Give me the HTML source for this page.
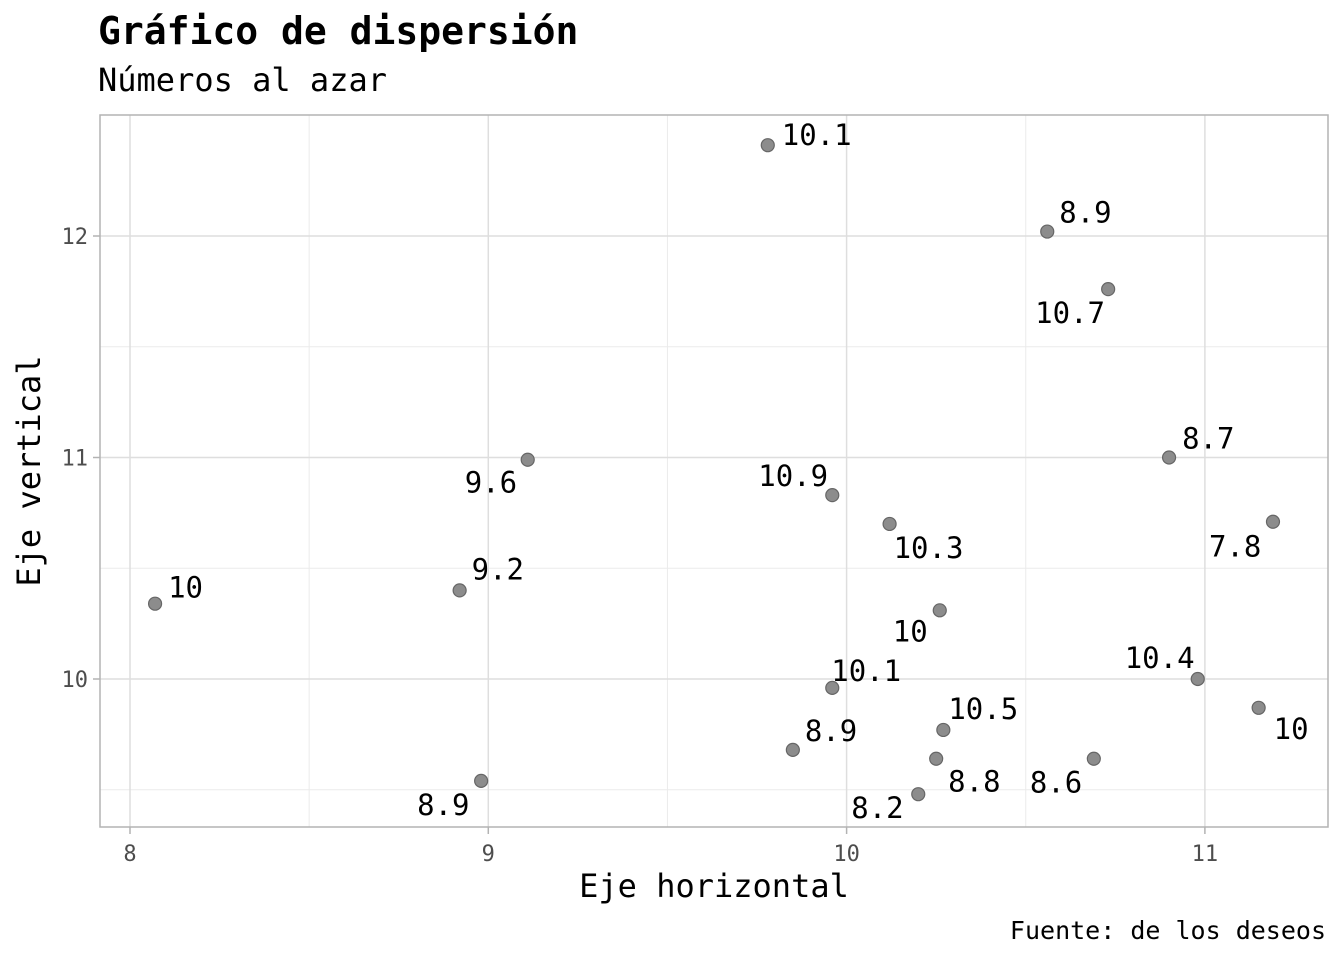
<!DOCTYPE html>
<html><head><meta charset="utf-8"><style>
html,body{margin:0;padding:0;background:#fff;}
svg{display:block;font-family:"DejaVu Sans Mono","Liberation Mono",monospace;}
</style></head><body>
<svg id="chart" width="1344" height="960">
<text x="98" y="44" font-size="38" font-weight="bold" fill="#000">Gráfico de dispersión</text>
<text x="98" y="91" font-size="32" fill="#000">Números al azar</text>
<g id="grid"></g>
<rect x="100" y="115" width="1228" height="712" fill="none" stroke="#b3b3b3" stroke-width="1.5"/>
<g id="ticks"></g>
<g id="marks"></g>
<text x="714" y="897" font-size="32" text-anchor="middle" fill="#000">Eje horizontal</text>
<text transform="translate(40,471) rotate(-90)" font-size="32" text-anchor="middle" fill="#000">Eje vertical</text>
<text x="1326" y="939" font-size="25" text-anchor="end" fill="#000">Fuente: de los deseos</text>
</svg>
<script>
const xVals=[8.07,8.92,9.11,8.98,9.78,10.56,10.73,9.96,10.12,10.90,11.19,10.26,9.96,9.85,10.27,10.25,10.20,10.69,10.98,11.15];
const yVals=[10.34,10.40,10.99,9.54,12.41,12.02,11.76,10.83,10.70,11.00,10.71,10.31,9.96,9.68,9.77,9.64,9.48,9.64,10.00,9.87];
const labels=["10","9.2","9.6","8.9","10.1","8.9","10.7","10.9","10.3","8.7","7.8","10","10.1","8.9","10.5","8.8","8.2","8.6","10.4","10"];
const xTicks=[8,9,10,11];
const yTicks=[10,11,12];
const xMinor=[8.5,9.5,10.5];
const yMinor=[9.5,10.5,11.5];
const labelDx=[13,12,-63,-64,14,12,-73,-74,4,13,-64,-47,-1,12,5,12,-67,-64,-73,15];
const labelDy=[-6,-11,33,34,0,-9,34,-9,34,-9,35,31,-7,-9,-11,33,24,34,-11,31];
const X=v=>130+(v-8)*358.3;
const Y=v=>679-(v-10)*221.5;
const NS="http://www.w3.org/2000/svg";
function mk(tag,parent,attrs){const e=document.createElementNS(NS,tag);for(const k in attrs)e.setAttribute(k,attrs[k]);parent.appendChild(e);return e;}
const grid=document.getElementById('grid'),ticks=document.getElementById('ticks'),marks=document.getElementById('marks');
xMinor.forEach(v=>{const l=mk('line',grid,{x1:X(v),x2:X(v),y1:115,y2:827,stroke:'#ebebeb','stroke-width':1});

});
yMinor.forEach(v=>{const l=mk('line',grid,{x1:100,x2:1328,y1:Y(v),y2:Y(v),stroke:'#ebebeb','stroke-width':1});

});
xTicks.forEach(v=>{const l=mk('line',grid,{x1:X(v),x2:X(v),y1:115,y2:827,stroke:'#dedede','stroke-width':1.5});


const t=mk('line',ticks,{x1:X(v),x2:X(v),y1:827,y2:834,stroke:'#b3b3b3','stroke-width':1.5});


const tx=mk('text',ticks,{x:X(v),y:861,'font-size':22,'text-anchor':'middle',fill:'#4d4d4d'});tx.textContent=v;

});
yTicks.forEach(v=>{const l=mk('line',grid,{x1:100,x2:1328,y1:Y(v),y2:Y(v),stroke:'#dedede','stroke-width':1.5});


const t=mk('line',ticks,{x1:93,x2:100,y1:Y(v),y2:Y(v),stroke:'#b3b3b3','stroke-width':1.5});


const tx=mk('text',ticks,{x:88,y:Y(v)+8,'font-size':22,'text-anchor':'end',fill:'#4d4d4d'});tx.textContent=v;

});
xVals.forEach((v,i)=>{const px=X(v),py=Y(yVals[i]);
const c=mk('circle',marks,{cx:px,cy:py,r:6.5,fill:'#8c8c8c',stroke:'#666','stroke-width':1.2});


const t=mk('text',marks,{x:px+labelDx[i],y:py+labelDy[i],'font-size':29,fill:'#000'});t.textContent=labels[i];

});
</script>
</body></html>
